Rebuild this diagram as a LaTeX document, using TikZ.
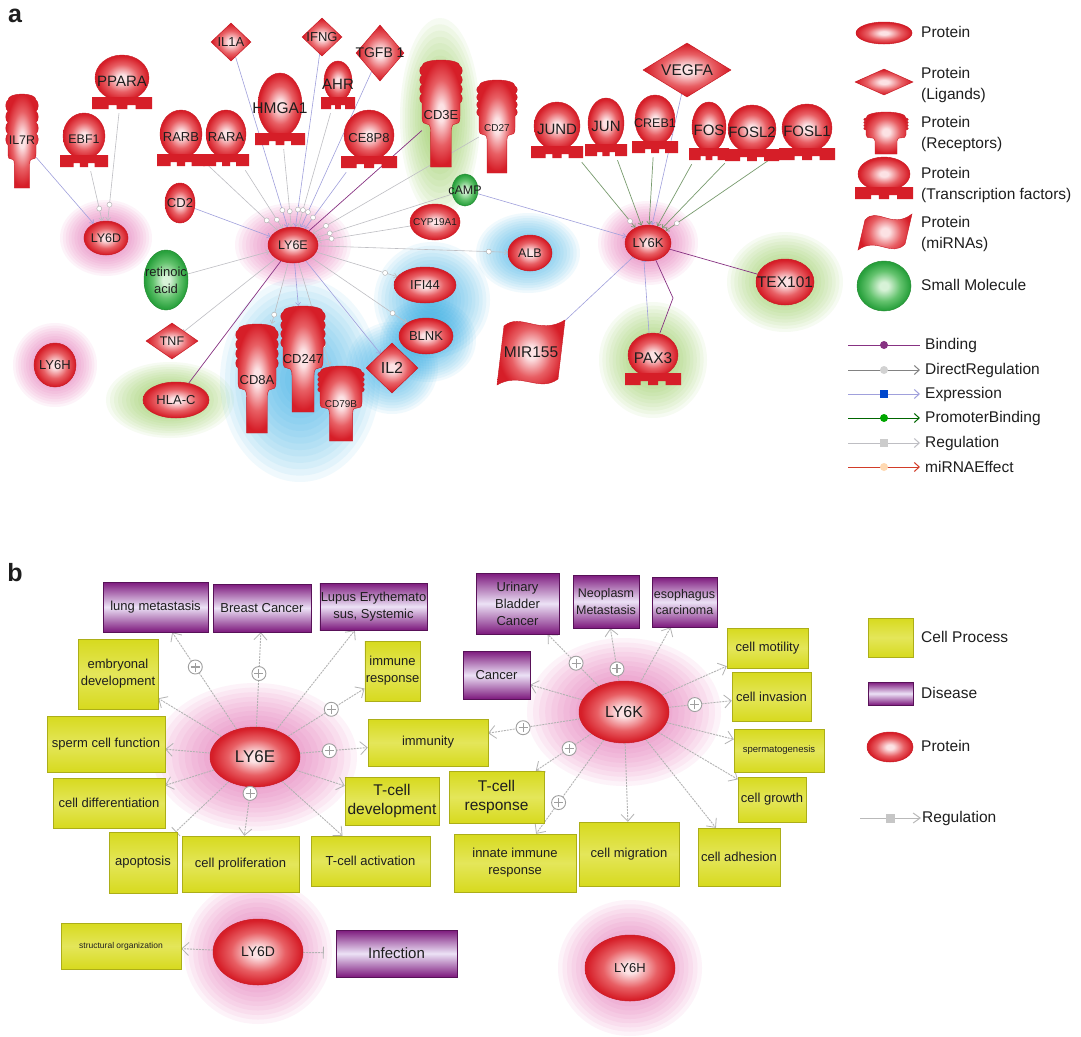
\documentclass[tikz,border=0pt]{standalone}
\usepackage{fontspec}
\setmainfont{Liberation Sans}
\usetikzlibrary{shapes.geometric,arrows.meta,calc}
\newcommand\fs[1]{\fontsize{#1}{\fpeval{1.3*#1}}\selectfont}
\definecolor{protout}{RGB}{214,30,40}
\definecolor{protmid}{RGB}{232,95,100}
\definecolor{protin}{RGB}{252,226,228}
\definecolor{protbd}{RGB}{200,25,35}
\definecolor{smout}{RGB}{40,160,60}
\definecolor{smmid}{RGB}{100,195,110}
\definecolor{smin}{RGB}{215,242,215}
\definecolor{smbd}{RGB}{35,140,50}
\definecolor{halopink}{RGB}{225,80,165}
\definecolor{haloblue}{RGB}{40,170,230}
\definecolor{halogreen}{RGB}{130,195,60}
\definecolor{expc}{RGB}{160,160,220}
\definecolor{bindc}{RGB}{135,50,130}
\definecolor{regc}{RGB}{190,190,195}
\definecolor{dregc}{RGB}{130,130,130}
\definecolor{promc}{RGB}{120,155,110}
\definecolor{mirc}{RGB}{210,60,40}
\definecolor{disp}{RGB}{125,25,125}
\definecolor{disl}{RGB}{236,226,246}
\definecolor{yel}{RGB}{215,218,30}
\definecolor{yelm}{RGB}{228,230,90}
\definecolor{txt}{RGB}{30,30,30}
\pgfdeclareradialshading{protsh}{\pgfpoint{0bp}{0bp}}{color(0bp)=(protin); color(4bp)=(protin); color(15bp)=(protmid); color(24bp)=(protout); color(50bp)=(protout)}
\pgfdeclareradialshading{smsh}{\pgfpoint{0bp}{0bp}}{color(0bp)=(smin); color(4bp)=(smin); color(15bp)=(smmid); color(24bp)=(smout); color(50bp)=(smout)}
\pgfdeclarelayer{bg}
\pgfdeclarelayer{edges}
\pgfsetlayers{bg,edges,main}
\tikzset{
 prot/.style={ellipse, draw=protbd, line width=0.5pt, shade, shading=protsh, inner sep=0pt},
 smol/.style={ellipse, draw=smbd, line width=0.5pt, shade, shading=smsh, inner sep=0pt},
 lig/.style={diamond, draw=protbd, line width=0.5pt, shade, shading=protsh, inner sep=0pt},
 cp/.style={rectangle, draw=yel!80!black, line width=0.4pt, top color=yel, bottom color=yel, middle color=yelm, inner sep=1pt, align=center, font=\fs{13}, text=txt},
 dis/.style={rectangle, draw=disp!70!black, line width=0.5pt, top color=disp, bottom color=disp, middle color=disl, inner sep=1pt, align=center, font=\fs{13}, text=txt},
 ereg/.style={draw=regc, line width=0.6pt, -{Straight Barb[length=3pt,width=5pt]}},
 eexp/.style={draw=expc, line width=0.6pt, -{Straight Barb[length=3pt,width=5pt]}},
 ebind/.style={draw=bindc, line width=0.7pt},
 eprom/.style={draw=promc, line width=0.7pt, -{Straight Barb[length=3pt,width=5pt]}},
 mk/.style={circle, draw=gray!65, fill=white, inner sep=0pt, minimum size=5pt, line width=0.4pt},
 breg/.style={draw=gray!60, dash pattern=on 2pt off 1pt, line width=0.9pt, -{Straight Barb[length=7pt,width=13pt,line width=0.8pt]}},
 plus/.style={circle, draw=gray!75, fill=white, line width=0.9pt, minimum size=14pt, inner sep=0pt,
   path picture={\draw[gray!75,line width=1.1pt] ([xshift=-4.5pt]path picture bounding box.center) -- ([xshift=4.5pt]path picture bounding box.center) ([yshift=-4.5pt]path picture bounding box.center) -- ([yshift=4.5pt]path picture bounding box.center);}},
 lgt/.style={anchor=west, inner sep=0pt, align=left, font=\fontsize{15.5}{21}\selectfont, text=txt},
}
% ellipse / diamond entity: name x y w h fontsize text style
\newcommand\pnode[8]{%
 \node[#8, minimum width=#4, minimum height=#5] (#1) at (#2,#3) {};
 \node[font=\fs{#6}, align=center, inner sep=0pt, text=txt] (#1l) at (#1) {#7};}
% transcription factor: name cx cy a b label fontsize
\newcommand\tfac[7]{%
 \pgfmathsetmacro\tfL{#2-#4-3}\pgfmathsetmacro\tfR{#2+#4+3}%
 \pgfmathsetmacro\tfT{#3+#5-4}\pgfmathsetmacro\tfB{#3+#5+8}\pgfmathsetmacro\tfBn{#3+#5+4}%
 \pgfmathsetmacro\tfNA{#2-0.5*#4}\pgfmathsetmacro\tfNB{#2-0.2*#4}%
 \pgfmathsetmacro\tfNC{#2+0.2*#4}\pgfmathsetmacro\tfND{#2+0.5*#4}%
 \shade[shading=protsh, draw=protbd, line width=0.4pt] (#2,#3) ellipse ({#4} and {#5});
 \fill[protout] (\tfL,\tfT) -- (\tfR,\tfT) -- (\tfR,\tfB) -- (\tfND,\tfB) -- (\tfND,\tfBn) -- (\tfNC,\tfBn) -- (\tfNC,\tfB) -- (\tfNB,\tfB) -- (\tfNB,\tfBn) -- (\tfNA,\tfBn) -- (\tfNA,\tfB) -- (\tfL,\tfB) -- cycle;
 \node[inner sep=0pt, minimum width={2*#4+6}, minimum height={2*#5+12}] (#1) at (#2,{#3+6}) {};
 \node[font=\fs{#7}, inner sep=0pt, text=txt] (#1l) at (#2,{#3+3}) {#6};}
% receptor: name cx top mid bot w labely label fontsize
\newcommand\recp[9]{%
 \pgfmathsetmacro\rcL{#2-#6}\pgfmathsetmacro\rcR{#2+#6}%
 \pgfmathsetmacro\rcSL{#2-0.55*#6}\pgfmathsetmacro\rcSR{#2+0.55*#6}%
 \pgfmathsetmacro\rcHB{(#4-#3-6)/4}%
 \pgfmathsetmacro\rcYA{#4+0.2*(#5-#4)}\pgfmathsetmacro\rcYB{#4+0.45*(#5-#4)}%
 \shade[shading=protsh, draw=protbd, line width=0.4pt]
  (\rcSL,#5) -- (\rcSR,#5) -- (\rcSR,\rcYB) .. controls (\rcSR,\rcYA) and (\rcR,\rcYB) .. (\rcR,\rcYA) -- (\rcR,#4)
  \foreach \k in {0,1,2,3}{ .. controls ({\rcR+3},{#4-\k*\rcHB-0.15*\rcHB}) and ({\rcR+3},{#4-(\k+1)*\rcHB+0.15*\rcHB}) .. (\rcR,{#4-(\k+1)*\rcHB}) }
  .. controls (\rcR,{#3-2}) and (\rcL,{#3-2}) .. (\rcL,{#3+6})
  \foreach \k in {3,2,1,0}{ .. controls ({\rcL-3},{#4-(\k+1)*\rcHB+0.15*\rcHB}) and ({\rcL-3},{#4-\k*\rcHB-0.15*\rcHB}) .. (\rcL,{#4-\k*\rcHB}) }
  -- (\rcL,\rcYA) .. controls (\rcL,\rcYB) and (\rcSL,\rcYA) .. (\rcSL,\rcYB) -- cycle;
 \node[inner sep=0pt, minimum width={2*#6}, minimum height={#5-#3}] (#1) at (#2,{(#3+#5)/2}) {};
 \node[font=\fs{#9}, inner sep=0pt, text=txt] (#1l) at (#2,#7) {#8};}
% miRNA flag: name x1 y1 x2 y2 label fontsize
\newcommand\mirna[7]{%
 \pgfmathsetmacro\miW{#4-#2}%
 \shade[shading=protsh, draw=protbd, line width=0.4pt] ({#2+7},{#3+6}) .. controls ({#2+0.35*\miW},{#3-8}) and ({#2+0.62*\miW},{#3+16}) .. (#4,#3) -- ({#4-7},{#5-6}) .. controls ({#2+0.62*\miW},{#5+8}) and ({#2+0.35*\miW},{#5-14}) .. (#2,#5) -- cycle;
 \node[inner sep=0pt, minimum width=\miW, minimum height={#5-#3}] (#1) at ({(#2+#4)/2},{(#3+#5)/2}) {};
 \node[font=\fs{#7}, inner sep=0pt, text=txt] (#1l) at (#1) {#6};}
% box by corners: name x1 y1 x2 y2 style text
\newcommand\bx[7]{%
 \node[#6, minimum width={#4-#2}, minimum height={#5-#3}] (#1) at ({(#2+#4)/2},{(#3+#5)/2}) {#7};}
\newcommand\halo[5]{%
 \foreach \k in {1,...,16}{\fill[#5, opacity=0.065] (#1,#2) ellipse ({#3*\k/16} and {#4*\k/16});}}
\begin{document}
\begin{tikzpicture}[x=1pt,y=-1pt]
\begin{pgfonlayer}{bg}
\fill[white] (0,0) rectangle (1081,1023);
\halo{106}{238}{46}{38}{halopink}
\halo{293}{245}{58}{42}{halopink}
\halo{55}{365}{42}{42}{halopink}
\halo{648}{243}{50}{42}{halopink}
\halo{440}{118}{40}{100}{halogreen}
\halo{170}{400}{64}{38}{halogreen}
\halo{653}{360}{54}{58}{halogreen}
\halo{785}{282}{58}{50}{halogreen}
\halo{528}{253}{52}{40}{haloblue}
\halo{432}{300}{58}{58}{haloblue}
\halo{428}{340}{48}{42}{haloblue}
\halo{392}{368}{46}{46}{haloblue}
\halo{300}{380}{80}{102}{haloblue}
\halo{255}{757}{102}{74}{halopink}
\halo{624}{712}{97}{74}{halopink}
\halo{258}{952}{74}{72}{halopink}
\halo{630}{968}{72}{68}{halopink}
\end{pgfonlayer}
\useasboundingbox (0,0) rectangle (1081,1023);
% ---------- panel a ----------
\node[font=\bfseries\fs{25}, text=txt] (lbla) at (15,16) {a};
\recp{il7r}{22}{94}{145}{188}{14}{140}{IL7R}{12.5}
\tfac{ebf1}{84}{136}{21}{23}{EBF1}{12.5}
\tfac{ppara}{122}{78}{27}{23}{PPARA}{15}
\tfac{rarb}{181}{134}{21}{24}{RARB}{13}
\tfac{rara}{226}{134}{20}{24}{RARA}{13}
\tfac{hmga1}{280}{105}{22}{32}{HMGA1}{15.5}
\tfac{ahr}{338}{81}{14}{20}{AHR}{15}
\tfac{ce8p8}{369}{135}{25}{25}{CE8P8}{13}
\tfac{jund}{557}{126}{23}{24}{JUND}{15}
\tfac{jun}{606}{123}{18}{25}{JUN}{15}
\tfac{creb1}{655}{120}{20}{25}{CREB1}{12.5}
\tfac{fos}{709}{127}{17}{25}{FOS}{15}
\tfac{fosl2}{752}{129}{24}{24}{FOSL2}{15}
\tfac{fosl1}{807}{128}{25}{24}{FOSL1}{15}
\tfac{pax3}{653}{355}{25}{22}{PAX3}{15.5}
\recp{cd3e}{441}{60}{103}{167}{19}{115}{CD3E}{13}
\recp{cd27}{497}{80}{116}{173}{18}{128}{CD27}{10}
\recp{cd8a}{257}{324}{368}{433}{19}{380}{CD8A}{13}
\recp{cd247}{303}{306}{347}{412}{20}{359}{CD247}{13}
\recp{cd79b}{341}{366}{392}{441}{21}{404}{CD79B}{10}
\mirna{mir155}{497}{320}{565}{385}{MIR155}{15.5}
\pnode{ly6d}{106}{238}{44}{34}{12.5}{LY6D}{prot}
\pnode{ly6e}{293}{245}{50}{36}{12.5}{LY6E}{prot}
\pnode{ly6k}{648}{243}{46}{36}{13}{LY6K}{prot}
\pnode{ly6h}{55}{365}{42}{44}{13}{LY6H}{prot}
\pnode{cd2}{180}{203}{30}{40}{13}{CD2}{prot}
\pnode{cyp}{435}{222}{50}{36}{10}{CYP19A1}{prot}
\pnode{alb}{530}{253}{44}{36}{12.5}{ALB}{prot}
\pnode{ifi44}{425}{285}{62}{36}{13}{IFI44}{prot}
\pnode{blnk}{426}{336}{54}{36}{13}{BLNK}{prot}
\pnode{hlac}{176}{400}{66}{36}{13}{HLA-C}{prot}
\pnode{tex101}{785}{282}{58}{46}{15.5}{TEX101}{prot}
\pnode{camp}{465}{190}{26}{32}{12.5}{cAMP}{smol}
\pnode{retinoic}{166}{280}{44}{60}{13}{retinoic\\acid}{smol}
\pnode{il1a}{231}{42}{40}{38}{13}{IL1A}{lig}
\pnode{ifng}{322}{37}{40}{38}{13}{IFNG}{lig}
\pnode{tgfb1}{380}{53}{48}{56}{14}{TGFB 1}{lig}
\pnode{tnf}{172}{341}{52}{36}{12.5}{TNF}{lig}
\pnode{il2}{392}{368}{52}{50}{16}{IL2}{lig}
\pnode{vegfa}{687}{70}{88}{54}{15.5}{VEGFA}{lig}
\coordinate (pxb) at (673,298);
\begin{pgfonlayer}{edges}
\draw[eexp] (il7r) -- (ly6d);
\draw[ereg] (ebf1) -- node[mk,pos=0.75]{} (ly6d);
\draw[ereg] (ppara) -- node[mk,pos=0.85]{} (ly6d);
\draw[eexp] (cd2) -- (ly6e);
\draw[ereg] (rarb) -- node[mk,pos=0.85]{} (ly6e);
\draw[ereg] (rara) -- node[mk,pos=0.85]{} (ly6e);
\draw[eexp] (il1a) -- node[mk,pos=0.9]{} (ly6e);
\draw[ereg] (hmga1) -- node[mk,pos=0.8]{} (ly6e);
\draw[eexp] (ifng) -- node[mk,pos=0.9]{} (ly6e);
\draw[ereg] (ahr) -- node[mk,pos=0.85]{} (ly6e);
\draw[eexp] (tgfb1) -- node[mk,pos=0.9]{} (ly6e);
\draw[eexp] (ce8p8) -- node[mk,pos=0.8]{} (ly6e);
\draw[ebind] (cd3e) -- (ly6e);
\draw[ereg] (cd27) -- node[mk,pos=0.92]{} (ly6e);
\draw[ereg] (camp) -- node[mk,pos=0.9]{} (ly6e);
\draw[ereg] (cyp) -- node[mk,pos=0.85]{} (ly6e);
\draw[ereg] (retinoic) -- (ly6e);
\draw[ereg] (ly6e) -- node[mk,pos=0.9]{} (alb);
\draw[ereg] (ly6e) -- node[mk,pos=0.85]{} (ifi44);
\draw[ereg] (ly6e) -- node[mk,pos=0.85]{} (blnk);
\draw[eexp] (ly6e) -- (il2);
\draw[ereg] (ly6e) -- node[mk,pos=0.8]{} (cd79b);
\draw[eexp] (ly6e) -- (cd247);
\draw[ereg] (ly6e) -- node[mk,pos=0.85]{} (cd8a);
\draw[ebind] (ly6e) -- (hlac);
\draw[ereg, -{Bar[width=5pt]}] (ly6e) -- (tnf);
\draw[eexp] (camp) -- (ly6k);
\draw[eprom] (jund) -- node[mk,pos=0.9]{} (ly6k);
\draw[eprom] (jun) -- (ly6k);
\draw[eprom] (creb1) -- (ly6k);
\draw[eexp] (vegfa) -- (ly6k);
\draw[eprom] (fos) -- (ly6k);
\draw[eprom] (fosl2) -- (ly6k);
\draw[eprom] (fosl1) -- node[mk,pos=0.9]{} (ly6k);
\draw[eexp, -{Bar[width=5pt]}] (mir155) -- (ly6k);
\draw[eexp, -{Bar[width=5pt]}] ([xshift=-4pt]pax3.north) -- ([xshift=-4pt]ly6k.south);
\draw[ebind] ([xshift=7pt]pax3.north) -- (pxb) -- (ly6k);
\draw[ebind] (ly6k) -- (tex101);
\end{pgfonlayer}
% legend a
\pnode{lgprot}{884}{33}{56}{22}{8}{}{prot}
\pnode{lglig}{884}{82}{58}{26}{8}{}{lig}
\recp{lgrec}{886}{112}{130}{154}{20}{140}{}{8}
\tfac{lgtf}{884}{174}{26}{17}{}{10}
\mirna{lgmir}{858}{214}{912}{250}{}{10}
\pnode{lgsm}{884}{286}{54}{50}{8}{}{smol}
\node[lgt] (t1) at (921,32) {Protein};
\node[lgt] (t2) at (921,85) {Protein\\(Ligands)};
\node[lgt] (t3) at (921,134) {Protein\\(Receptors)};
\node[lgt] (t4) at (921,185) {Protein\\(Transcription factors)};
\node[lgt] (t5) at (921,234) {Protein\\(miRNAs)};
\node[lgt] (t6) at (921,285) {Small Molecule};
\foreach \i/\yy in {1/345,2/370,3/394,4/418,5/443,6/467}{
  \coordinate (ea\i) at (848,\yy); \coordinate (eb\i) at (920,\yy);}
\draw[bindc, line width=1pt] (ea1) -- node[circle, fill=bindc, inner sep=0pt, minimum size=8pt](m1){} (eb1);
\draw[dregc, line width=1pt, -{Straight Barb[length=5pt,width=9pt]}] (ea2) -- node[circle, fill=gray!35, inner sep=0pt, minimum size=8pt](m2){} (eb2);
\draw[expc, line width=1pt, -{Straight Barb[length=5pt,width=9pt]}] (ea3) -- node[rectangle, fill=blue!65!cyan!80!black, inner sep=0pt, minimum size=8pt](m3){} (eb3);
\draw[green!40!black, line width=1pt, -{Straight Barb[length=5pt,width=9pt]}] (ea4) -- node[circle, fill=green!65!black, inner sep=0pt, minimum size=8pt](m4){} (eb4);
\draw[regc, line width=1pt, -{Straight Barb[length=5pt,width=9pt]}] (ea5) -- node[rectangle, fill=gray!40, inner sep=0pt, minimum size=8pt](m5){} (eb5);
\draw[mirc, line width=1pt, -{Straight Barb[length=5pt,width=9pt]}] (ea6) -- node[circle, fill=orange!30, inner sep=0pt, minimum size=8pt](m6){} (eb6);
\node[lgt] (t7) at (925,345) {Binding};
\node[lgt] (t8) at (925,370) {DirectRegulation};
\node[lgt] (t9) at (925,394) {Expression};
\node[lgt] (t10) at (925,418) {PromoterBinding};
\node[lgt] (t11) at (925,443) {Regulation};
\node[lgt] (t12) at (925,467) {miRNAEffect};
% ---------- panel b ----------
\node[font=\bfseries\fs{25}, text=txt] (lblb) at (15,573) {b};
\bx{lung}{103}{582}{208}{632}{dis}{lung metastasis}
\bx{breast}{213}{584}{311}{632}{dis}{Breast Cancer}
\bx{lupus}{320}{583}{427}{630}{dis}{Lupus Erythemato\\sus, Systemic}
\bx{urinary}{476}{573}{559}{634}{dis}{Urinary\\Bladder\\Cancer}
\bx{neo}{573}{575}{639}{628}{dis,font=\fs{12.5}}{Neoplasm\\Metastasis}
\bx{eso}{652}{577}{717}{627}{dis,font=\fs{12.5}}{esophagus\\carcinoma}
\bx{cancer}{463}{651}{530}{699}{dis}{Cancer}
\bx{infect}{336}{930}{457}{977}{dis,font=\fs{15}}{Infection}
\bx{embryo}{78}{639}{158}{709}{cp}{embryonal\\development}
\bx{sperm}{47}{716}{165}{772}{cp}{sperm cell function}
\bx{diff}{53}{778}{165}{828}{cp}{cell differentiation}
\bx{apop}{109}{832}{177}{893}{cp}{apoptosis}
\bx{prolif}{182}{836}{299}{892}{cp}{cell proliferation}
\bx{tact}{311}{836}{430}{886}{cp}{T-cell activation}
\bx{tdev}{345}{777}{439}{825}{cp,font=\fontsize{15.5}{18.5}\selectfont}{T-cell\\development}
\bx{immresp}{365}{641}{420}{701}{cp}{immune\\response}
\bx{immunity}{368}{719}{488}{766}{cp}{immunity}
\bx{tresp}{449}{771}{544}{823}{cp,font=\fontsize{15.5}{18.5}\selectfont}{T-cell\\response}
\bx{innate}{454}{834}{576}{892}{cp}{innate immune\\response}
\bx{migr}{579}{822}{679}{886}{cp}{cell migration}
\bx{adh}{698}{828}{780}{886}{cp}{cell adhesion}
\bx{growth}{738}{777}{806}{822}{cp}{cell growth}
\bx{spermat}{734}{729}{824}{772}{cp,font=\fs{9.5}}{spermatogenesis}
\bx{invas}{732}{672}{811}{721}{cp}{cell invasion}
\bx{motil}{727}{628}{808}{668}{cp}{cell motility}
\bx{struct}{61}{923}{181}{969}{cp,font=\fs{8.5}}{structural organization}
\pnode{bly6e}{255}{757}{90}{60}{17}{LY6E}{prot}
\pnode{bly6k}{624}{712}{90}{62}{16}{LY6K}{prot}
\pnode{bly6d}{258}{952}{90}{66}{14}{LY6D}{prot}
\pnode{bly6h}{630}{968}{90}{66}{13}{LY6H}{prot}
\begin{pgfonlayer}{edges}
\foreach \t in {lung,breast,lupus,immresp,immunity,tdev,tact,prolif,diff,sperm,embryo}{\draw[breg] (bly6e) -- (\t);}
\draw[breg, -{Bar[width=12pt,line width=0.8pt]}] (bly6e) -- (apop);
\foreach \t in {urinary,neo,eso,cancer,immunity,tresp,innate,migr,adh,growth,spermat,invas,motil}{\draw[breg] (bly6k) -- (\t);}
\draw[breg] (bly6d) -- (struct);
\draw[breg, -{Bar[width=12pt,line width=0.8pt]}, shorten >=12pt] (bly6d) -- (infect);
\end{pgfonlayer}
\node[plus] (p1) at ($(bly6e)!0.6!(lung)$) {};
\node[plus] (p2) at ($(bly6e)!0.56!(breast)$) {};
\node[plus] (p3) at ($(bly6e)!0.555!(immresp)$) {};
\node[plus] (p4) at ($(bly6e)!0.43!(immunity)$) {};
\node[plus] (p5) at ($(bly6e)!0.34!(prolif)$) {};
\node[plus] (p6) at ($(bly6k)!0.45!(urinary)$) {};
\node[plus] (p7) at ($(bly6k)!0.39!(neo)$) {};
\node[plus] (p8) at ($(bly6k)!0.48!(invas)$) {};
\node[plus] (p9) at ($(bly6k)!0.515!(immunity)$) {};
\node[plus] (p10) at ($(bly6k)!0.43!(tresp)$) {};
\node[plus] (p11) at ($(bly6k)!0.6!(innate)$) {};
% legend b
\bx{lgcp}{868}{618}{913}{657}{cp}{}
\bx{lgdis}{868}{682}{913}{705}{dis}{}
\pnode{lgbprot}{890}{747}{46}{30}{8}{}{prot}
\coordinate (ra) at (860,818); \coordinate (rb) at (921,818);
\draw[gray!55, line width=1pt, -{Straight Barb[length=7pt,width=10pt]}] (ra) -- node[rectangle, fill=gray!45, inner sep=0pt, minimum size=9pt](m7){} (rb);
\node[lgt] (t13) at (921,637) {Cell Process};
\node[lgt] (t14) at (921,693) {Disease};
\node[lgt] (t15) at (921,746) {Protein};
\node[lgt] (t16) at (922,818) {Regulation};
\end{tikzpicture}
\end{document}
